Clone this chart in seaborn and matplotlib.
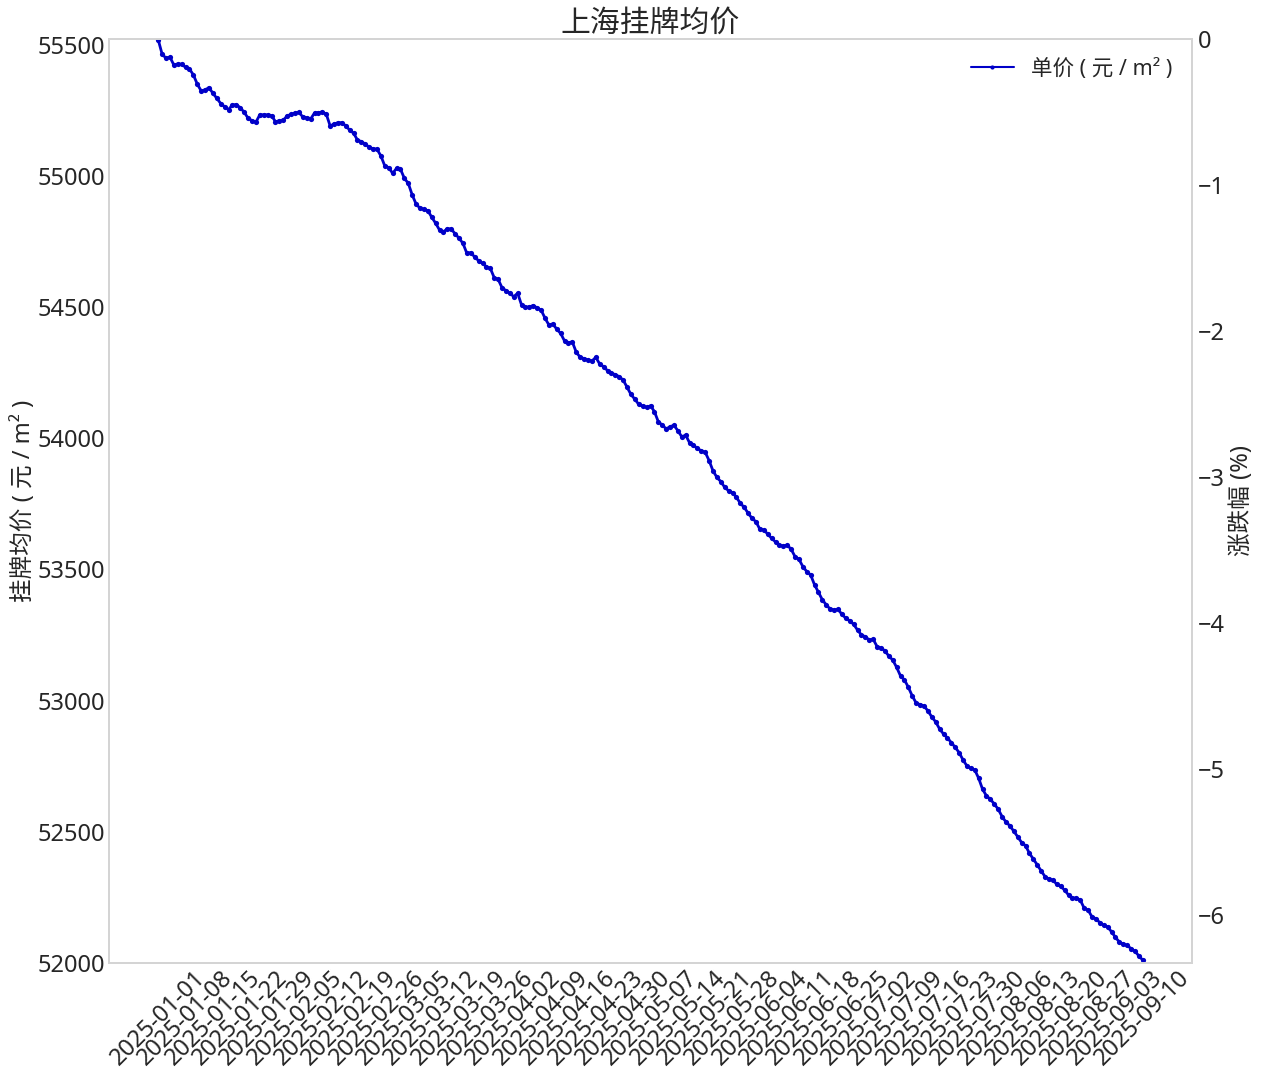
import numpy as np
import pandas as pd
import matplotlib
matplotlib.use("Agg")
import matplotlib.pyplot as plt
import seaborn as sns

# Daily listing price
start_date = "2025-01-01"
prices = [
    55519, 55464, 55449, 55453, 55423, 55427, 55426, 55414, 55408, 55385,
    55350, 55324, 55328, 55337, 55315, 55296, 55276, 55264, 55253, 55271,
    55272, 55260, 55243, 55220, 55211, 55205, 55233, 55233, 55233, 55230,
    55207, 55210, 55212, 55229, 55235, 55240, 55243, 55225, 55222, 55217,
    55240, 55241, 55244, 55236, 55191, 55198, 55203, 55203, 55191, 55175,
    55163, 55137, 55131, 55122, 55109, 55104, 55102, 55076, 55038, 55032,
    55010, 55029, 55026, 54991, 54972, 54928, 54893, 54877, 54873, 54868,
    54843, 54820, 54794, 54787, 54799, 54798, 54779, 54763, 54743, 54705,
    54708, 54691, 54677, 54667, 54654, 54648, 54612, 54606, 54574, 54563,
    54553, 54540, 54553, 54508, 54500, 54501, 54506, 54497, 54489, 54458,
    54432, 54436, 54416, 54400, 54371, 54365, 54367, 54328, 54309, 54304,
    54299, 54294, 54309, 54283, 54273, 54258, 54248, 54243, 54235, 54222,
    54195, 54167, 54149, 54129, 54123, 54118, 54124, 54102, 54063, 54051,
    54036, 54044, 54050, 54029, 54006, 54012, 53983, 53973, 53962, 53952,
    53947, 53915, 53876, 53851, 53835, 53813, 53800, 53793, 53775, 53752,
    53737, 53714, 53695, 53682, 53653, 53651, 53635, 53619, 53605, 53592,
    53590, 53593, 53577, 53549, 53539, 53511, 53492, 53479, 53441, 53413,
    53384, 53365, 53349, 53346, 53348, 53329, 53314, 53304, 53291, 53269,
    53250, 53244, 53231, 53234, 53206, 53201, 53190, 53170, 53155, 53127,
    53094, 53079, 53051, 53018, 52991, 52985, 52980, 52961, 52938, 52919,
    52892, 52873, 52858, 52840, 52822, 52802, 52774, 52751, 52742, 52736,
    52704, 52662, 52637, 52624, 52606, 52586, 52558, 52537, 52523, 52502,
    52481, 52459, 52447, 52418, 52396, 52374, 52351, 52329, 52320, 52316,
    52300, 52292, 52278, 52259, 52248, 52248, 52240, 52209, 52202, 52176,
    52169, 52154, 52144, 52138, 52119, 52098, 52080, 52072, 52067, 52055,
    52045, 52027, 52011,
]
price_ticks = [52000, 52500, 53000, 53500, 54000, 54500, 55000, 55500]
pct_ticks = [0, -1, -2, -3, -4, -5, -6]
base_price = 55522

df = pd.DataFrame({
    "date": pd.date_range(start_date, periods=len(prices), freq="D"),
    "price": prices,
})
week_ticks = df["date"][::7]

sns.set_theme(style="whitegrid")
plt.rcParams["font.family"] = ["Noto Sans", "Noto Sans CJK SC", "DejaVu Sans"]
plt.rcParams["axes.edgecolor"] = "#d4d4d4"

fig, ax = plt.subplots(figsize=(12.62, 10.8), dpi=100)
fig.subplots_adjust(left=109 / 1262, right=1192 / 1262, top=1 - 39 / 1080, bottom=1 - 963 / 1080)

sns.lineplot(data=df, x="date", y="price", ax=ax, color="#0000c8", linewidth=2,
             marker=".", markersize=7.5, markeredgewidth=0, label="单价 ( 元 / m² )")

ax.set_ylim(52000, base_price)
ax.set_yticks(price_ticks)
ax.set_xticks(week_ticks)
ax.set_xticklabels(week_ticks.dt.strftime("%Y-%m-%d"), rotation=45, ha="center")
ax.tick_params(axis="both", labelsize=17, length=0, pad=3)
ax.tick_params(axis="x", pad=2)
ax.set_xlabel("")
ax.set_ylabel("挂牌均价 ( 元 / m² )", fontsize=17, labelpad=1)
ax.set_title("上海挂牌均价", fontsize=21.5, pad=1)
ax.grid(False)
leg = ax.legend(loc="upper right", frameon=False, fontsize=15.5, borderaxespad=0.52)
leg.get_lines()[0].set_linewidth(1.5)
leg.get_lines()[0].set_markersize(6)

# Right axis: change relative to the starting price
ax2 = ax.twinx()
ax2.set_ylim(-6.33, 0)
ax2.set_yticks(pct_ticks)
ax2.tick_params(axis="y", labelsize=17, length=0, pad=4)
ax2.set_ylabel("涨跌幅 (%)", fontsize=17, labelpad=4)
ax2.grid(False)

fig.savefig("out.png", dpi=100)
